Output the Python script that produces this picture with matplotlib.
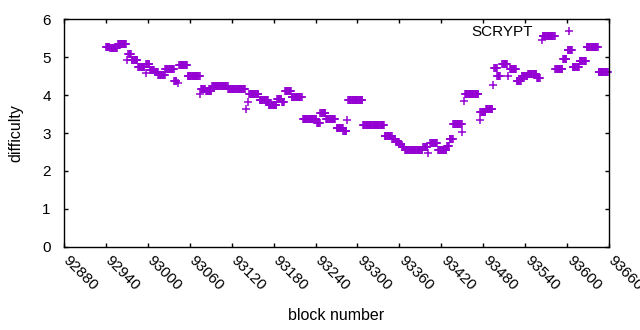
import numpy as np
import matplotlib
matplotlib.use("Agg")
import matplotlib.pyplot as plt
import matplotlib.transforms as mtransforms

plt.rcParams['font.family'] = ['Liberation Sans', 'DejaVu Sans']

# runs of blocks with the same difficulty: first block, last block, difficulty
run_start = [92940, 92946, 92957, 92970, 92972, 92977, 92986, 92997, 92998, 93003,
             93010, 93015, 93025, 93038, 93043, 93045, 93057, 93075, 93076, 93083,
             93092, 93115, 93140, 93143, 93145, 93160, 93173, 93185, 93192, 93196,
             93206, 93222, 93242, 93247, 93255, 93270, 93280, 93285, 93287, 93308,
             93339, 93350, 93355, 93360, 93364, 93368, 93394, 93401, 93404, 93415,
             93428, 93432, 93437, 93450, 93452, 93454, 93475, 93476, 93484, 93494,
             93496, 93500, 93507, 93515, 93518, 93528, 93535, 93544, 93557, 93564,
             93565, 93583, 93594, 93601, 93608, 93618, 93628, 93645]
run_end = [92945, 92956, 92969, 92970, 92976, 92985, 92995, 92997, 93002, 93009,
           93014, 93024, 93037, 93041, 93043, 93056, 93074, 93075, 93082, 93091,
           93114, 93139, 93140, 93143, 93158, 93172, 93184, 93191, 93195, 93205,
           93220, 93241, 93246, 93254, 93268, 93279, 93284, 93285, 93307, 93338,
           93349, 93354, 93359, 93363, 93367, 93393, 93400, 93401, 93414, 93427,
           93431, 93436, 93449, 93450, 93452, 93473, 93475, 93483, 93493, 93494,
           93499, 93504, 93514, 93515, 93527, 93534, 93543, 93556, 93561, 93564,
           93582, 93593, 93599, 93607, 93617, 93627, 93644, 93658]
run_diff = [5.27, 5.23, 5.36, 4.93, 5.08, 4.93, 4.73, 4.58, 4.82, 4.66,
            4.60, 4.52, 4.70, 4.38, 4.32, 4.79, 4.50, 4.03, 4.15, 4.10,
            4.24, 4.15, 3.63, 3.82, 4.03, 3.87, 3.73, 3.90, 3.82, 4.12,
            3.94, 3.38, 3.26, 3.54, 3.38, 3.12, 3.05, 3.34, 3.87, 3.21,
            2.93, 2.84, 2.76, 2.70, 2.64, 2.56, 2.63, 2.47, 2.74, 2.55,
            2.65, 2.85, 3.24, 3.03, 3.84, 4.03, 3.34, 3.55, 3.64, 4.27,
            4.72, 4.50, 4.83, 4.50, 4.69, 4.37, 4.50, 4.55, 4.45, 5.45,
            5.57, 4.68, 4.95, 5.19, 4.73, 4.90, 5.26, 4.62]

blocks = []
diffs = []
for s, e, d in zip(run_start, run_end, run_diff):
    for b in range(s, e + 1):
        blocks.append(b)
        diffs.append(d)

xticks = list(range(92880, 93661, 60))

fig = plt.figure(figsize=(6.4, 3.3), dpi=100)
ax = fig.add_axes([0.1, 0.2524, 0.8516, 0.6891])

ax.plot(blocks, diffs, linestyle='none', marker='+', markersize=6,
        markeredgewidth=1.1, color='#9400d3', label='SCRYPT', clip_on=False)

ax.set_xlim(92880, 93660)
ax.set_ylim(0, 6)
ax.set_xticks(xticks)
ax.set_xticklabels([str(t) for t in xticks], rotation=-45, ha='left',
                   va='center', rotation_mode='anchor')
ax.set_yticks(range(0, 7))
ax.tick_params(direction='in', length=3, width=1, top=True, right=True,
               labelsize=11)
ax.tick_params(axis='y', pad=9.5)
ax.tick_params(axis='x', pad=8.5)
# nudge rotated tick labels a little to the right, like gnuplot
shift = mtransforms.ScaledTranslation(1.5 / 100, 0, fig.dpi_scale_trans)
for lab in ax.get_xticklabels():
    lab.set_transform(lab.get_transform() + shift)
for sp in ax.spines.values():
    sp.set_linewidth(1)

ax.set_xlabel('block number', fontsize=11.5, va='top')
ax.set_ylabel('difficulty', fontsize=11.5)
ax.xaxis.set_label_coords(0.5, -0.268)
ax.yaxis.set_label_coords(-0.074, 0.5)

ax.legend(loc='upper right', bbox_to_anchor=(0.963, 0.975), markerfirst=False,
          frameon=False, fontsize=11, handlelength=2.6, handletextpad=1.05,
          borderpad=0, borderaxespad=0, numpoints=1)

fig.savefig('out.png', dpi=100)
